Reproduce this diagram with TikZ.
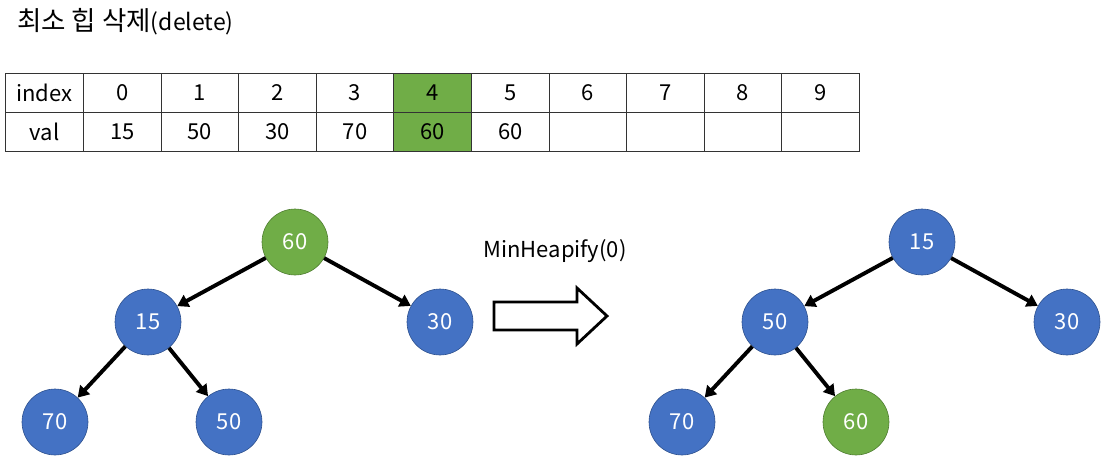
\documentclass[tikz,border=0pt]{standalone}
\usepackage{fontspec}
\setmainfont{Noto Sans CJK KR}
\usetikzlibrary{arrows.meta,shapes.arrows}
\definecolor{nblue}{HTML}{4472C4}
\definecolor{nblueb}{HTML}{2F528F}
\definecolor{ngreen}{HTML}{70AD47}
\definecolor{ngreenb}{HTML}{507E32}
\begin{document}
\begin{tikzpicture}[x=1pt,y=-1pt,
  heapnode/.style={circle,minimum size=66pt,inner sep=0pt,fill=nblue,draw=nblueb,line width=0.6pt,text=white,font=\fontsize{22}{22}\selectfont},
  greennode/.style={heapnode,fill=ngreen,draw=ngreenb},
  edge/.style={line width=3.9pt,-{Triangle[length=11pt,width=13pt]},shorten >=0pt},
  cell/.style={draw=black!80,line width=0.9pt,minimum width=77.6pt,minimum height=39pt,inner sep=0pt,anchor=north west,font=\fontsize{22}{22}\selectfont},
  firstcell/.style={cell,minimum width=78pt}
]
\useasboundingbox (0,0) rectangle (1101,456);
\node[anchor=west,inner sep=0pt] (title) at (17,22) {{\fontsize{26.5}{26}\selectfont 최소 힙 삭제}{\fontsize{23}{23}\selectfont(delete)}};
% table
\node[firstcell] (h0) at (5,73) {index};
\node[firstcell] (v0) at (5,112) {val};
\foreach \i/\a/\b in {0/0/15,1/1/50,2/2/30,3/3/70,5/5/60,6/6/,7/7/,8/8/,9/9/}{
  \node[cell] (hc\i) at ({83+77.6*\i},73) {\a};
  \node[cell] (vc\i) at ({83+77.6*\i},112) {\b};
}
\node[cell,fill=ngreen] (hc4) at ({83+77.6*4},73) {4};
\node[cell,fill=ngreen] (vc4) at ({83+77.6*4},112) {60};
% left tree
\node[greennode] (a60) at (295,242) {60};
\node[heapnode] (a15) at (148,322) {15};
\node[heapnode] (a30) at (440,322) {30};
\node[heapnode] (a70) at (55,422) {70};
\node[heapnode] (a50) at (229,422) {50};
\draw[edge] (a60) -- (a15);
\draw[edge] (a60) -- (a30);
\draw[edge] (a15) -- (a70);
\draw[edge] (a15) -- (a50);
% right tree
\node[heapnode] (b15) at (922,242) {15};
\node[heapnode] (b50) at (775,322) {50};
\node[heapnode] (b30) at (1067,322) {30};
\node[heapnode] (b70) at (682,422) {70};
\node[greennode] (b60) at (856,422) {60};
\draw[edge] (b15) -- (b50);
\draw[edge] (b15) -- (b30);
\draw[edge] (b50) -- (b70);
\draw[edge] (b50) -- (b60);
% block arrow
\node[font=\fontsize{22}{22}\selectfont] (lbl) at (555,251) {MinHeapify(0)};
\draw[line width=2.8pt,line join=miter,fill=white] (494,302) -- (577,302) -- (577,288) -- (607,316) -- (577,344) -- (577,330) -- (494,330) -- cycle;
\end{tikzpicture}
\end{document}
